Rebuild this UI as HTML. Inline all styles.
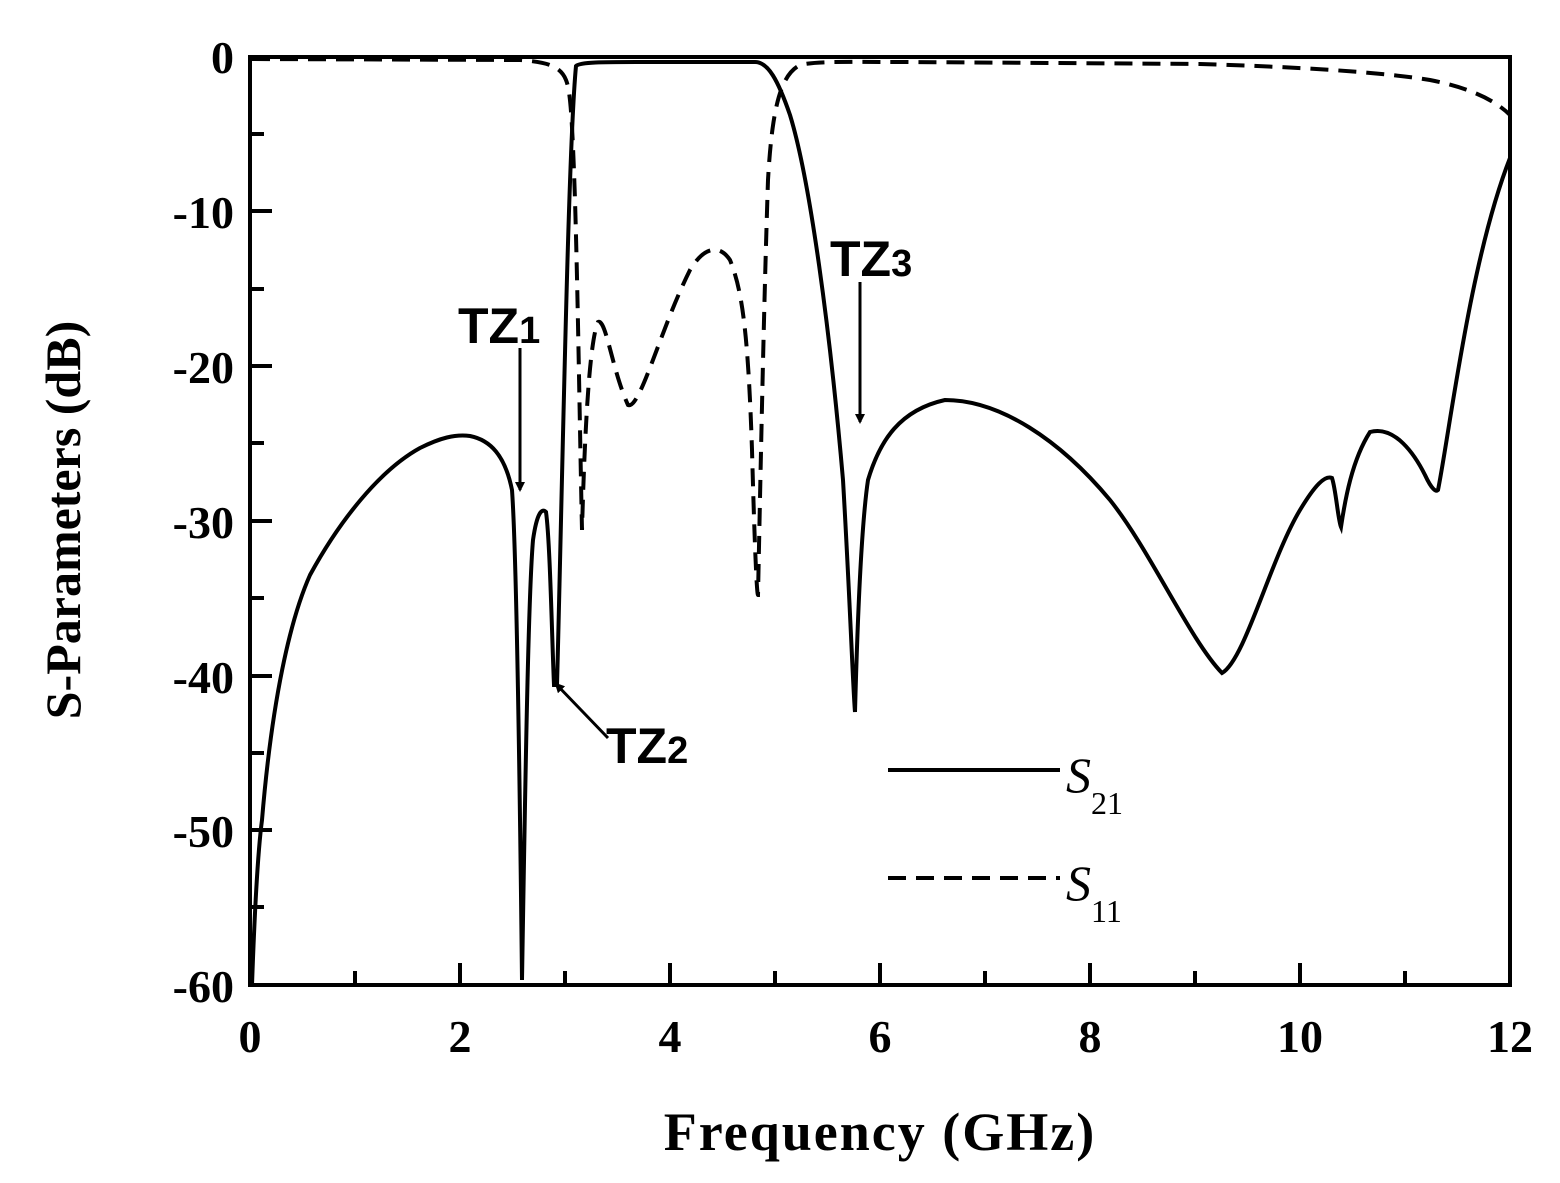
<!DOCTYPE html>
<html><head><style>body{margin:0;background:#fff}</style></head><body>
<svg width="1560" height="1178" viewBox="0 0 1560 1178" xmlns="http://www.w3.org/2000/svg">
<defs><marker id="ah" markerWidth="10" markerHeight="10" refX="8" refY="5" orient="auto" markerUnits="userSpaceOnUse"><path d="M0,0 L10,5 L0,10 z" fill="#000"/></marker></defs>
<g stroke="#000" stroke-width="4" fill="none">
<rect x="250" y="57" width="1260" height="928"/>
<path d="M355,985v-14M565,985v-14M775,985v-14M985,985v-14M1195,985v-14M1405,985v-14
M460,985v-22M670,985v-22M880,985v-22M1090,985v-22M1300,985v-22
M250,134h14M250,289h14M250,443h14M250,598h14M250,753h14M250,907h14
M250,211h22M250,366h22M250,521h22M250,676h22M250,830h22"/>
</g>
<g font-family="Liberation Serif, serif" font-weight="bold" font-size="46" text-anchor="end">
<text x="234" y="73">0</text><text x="234" y="228">-10</text><text x="234" y="383">-20</text>
<text x="234" y="538">-30</text><text x="234" y="693">-40</text><text x="234" y="847">-50</text><text x="234" y="1002">-60</text>
</g>
<g font-family="Liberation Serif, serif" font-weight="bold" font-size="46" text-anchor="middle">
<text x="250" y="1052">0</text><text x="460" y="1052">2</text><text x="670" y="1052">4</text><text x="880" y="1052">6</text>
<text x="1090" y="1052">8</text><text x="1300" y="1052">10</text><text x="1510" y="1052">12</text>
</g>
<text x="880" y="1150" font-family="Liberation Serif, serif" font-weight="bold" font-size="54" text-anchor="middle" letter-spacing="2">Frequency (GHz)</text>
<text transform="translate(80,520) rotate(-90)" font-family="Liberation Serif, serif" font-weight="bold" font-size="50" text-anchor="middle">S-Parameters (dB)</text>
<path fill="none" stroke="#000" stroke-width="4" d="M252,985 C255,900 258,850 262,820 C272,700 290,620 310,575 C340,520 380,470 420,448 C440,438 455,434 470,436 C490,440 505,455 512,490 C517,560 520,800 522,980 C525,800 528,600 533,540 C537,512 542,508 546,512 C550,540 552,640 554,685 L557,685 C562,500 568,150 576,66 C580,62 600,62 650,62 L755,62 C768,62 778,80 790,115 C810,180 830,330 843,480 C850,600 853,690 855,712 C858,600 862,520 868,480 C880,440 900,410 945,400 C1000,400 1060,440 1110,500 C1150,550 1190,640 1222,673 C1245,660 1270,560 1300,510 C1315,485 1325,475 1332,478 C1336,490 1338,520 1341,527 C1345,500 1352,460 1370,432 C1395,425 1415,455 1425,475 C1432,490 1436,492 1438,490 C1450,430 1470,260 1510,158"/>
<path fill="none" stroke="#000" stroke-width="4" stroke-dasharray="18,10" d="M252,59 L520,60 C545,62 560,65 566,80 C570,90 572,110 575,200 C578,300 580,440 582,530 C585,420 590,340 598,322 C606,318 612,370 628,405 C640,410 660,330 690,270 C705,245 720,245 730,260 C742,290 748,330 752,450 C755,560 757,595 758,595 C761,450 764,300 768,180 C772,110 780,75 800,65 C815,61 850,62 900,62 L1200,64 C1300,67 1380,72 1430,80 C1470,88 1495,100 1510,115"/>
<g font-family="Liberation Sans, sans-serif" font-weight="bold" fill="#000">
<text x="458" y="343" font-size="50">TZ<tspan font-size="38">1</tspan></text>
<text x="606" y="763" font-size="50">TZ<tspan font-size="38">2</tspan></text>
<text x="830" y="276" font-size="50">TZ<tspan font-size="38">3</tspan></text>
</g>
<g stroke="#000" stroke-width="3" marker-end="url(#ah)">
<line x1="520" y1="348" x2="520" y2="490"/>
<line x1="608" y1="738" x2="556" y2="684"/>
<line x1="860" y1="282" x2="860" y2="422"/>
</g>
<line x1="888" y1="770" x2="1060" y2="770" stroke="#000" stroke-width="4"/>
<line x1="888" y1="878" x2="1060" y2="878" stroke="#000" stroke-width="4" stroke-dasharray="18,10"/>
<g font-family="Liberation Serif, serif" font-style="italic" font-size="50">
<text x="1066" y="792">S<tspan font-style="normal" font-size="32" dy="22">21</tspan></text>
<text x="1066" y="900">S<tspan font-style="normal" font-size="32" dy="22">11</tspan></text>
</g>
</svg>
</body></html>
